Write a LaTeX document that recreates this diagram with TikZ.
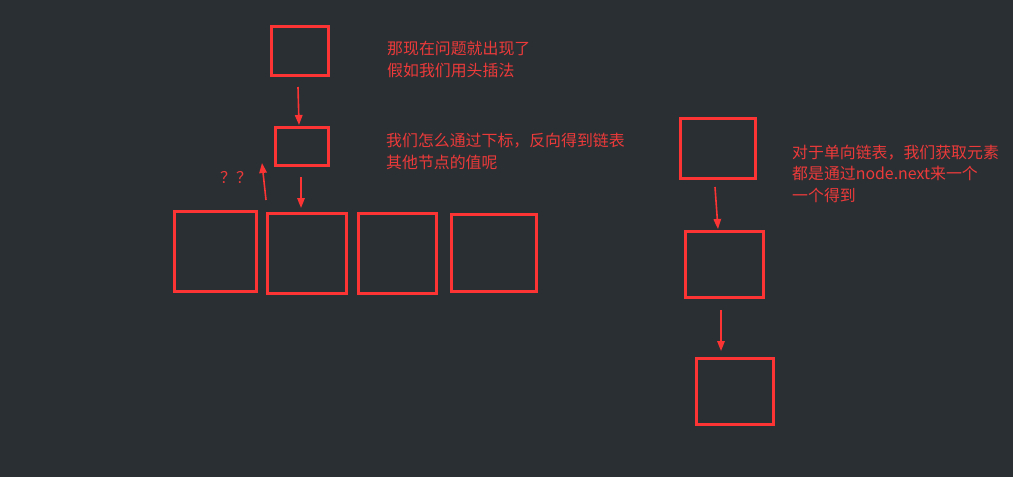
\documentclass[tikz,border=0pt]{standalone}
\usepackage{fontspec}
\setmainfont{Noto Sans CJK SC}
\usetikzlibrary{arrows.meta}
\definecolor{bg}{RGB}{41,47,51}
\definecolor{boxred}{RGB}{252,52,52}
\definecolor{txtred}{RGB}{236,58,58}
\begin{document}
\begin{tikzpicture}[x=1pt,y=-1pt,
  listbox/.style={draw=boxred,line width=3pt},
  slot/.style={inner sep=0pt,outer sep=0pt},
  link/.style={draw=boxred,line width=1.6pt,-{Triangle[length=10pt,width=7.5pt]}},
  note/.style={text=txtred,anchor=base west,inner sep=0pt,font=\fontsize{15.9}{22}\selectfont}]
\fill[bg] (0,0) rectangle (1013,477);
\useasboundingbox (0,0) rectangle (1013,477);
% left group
\node[slot,minimum width=57pt,minimum height=49pt] (top) at (300,51) {};
\node[slot,minimum width=53pt,minimum height=38pt] (mid) at (302,146.5) {};
\node[slot,minimum width=82pt,minimum height=80pt] (b1) at (215.5,251.5) {};
\node[slot,minimum width=79pt,minimum height=80pt] (b2) at (307,253.5) {};
\node[slot,minimum width=78pt,minimum height=80pt] (b3) at (397.5,253.5) {};
\node[slot,minimum width=85pt,minimum height=77pt] (b4) at (494,253) {};
\foreach \n in {top,mid,b1,b2,b3,b4} \draw[listbox] (\n.north west) rectangle (\n.south east);
\coordinate (a1s) at (298,87);
\coordinate (a1e) at (299,125);
\draw[link] (a1s) -- (a1e);
\coordinate (a2s) at (301,177);
\coordinate (a2e) at (301,208);
\draw[link] (a2s) -- (a2e);
\coordinate (qs) at (266,200);
\coordinate (qe) at (262,163);
\draw[link] (qs) -- (qe);
\node[note] (qq) at (220,183) {？？};
\node[note] (n1) at (387,54.5) {那现在问题就出现了};
\node[note] (n2) at (387,76) {假如我们用头插法};
\node[note] (n3) at (386,146) {我们怎么通过下标，反向得到链表};
\node[note] (n4) at (386,168) {其他节点的值呢};
% right group
\node[slot,minimum width=75pt,minimum height=60pt] (r1) at (718,148.5) {};
\node[slot,minimum width=78pt,minimum height=66pt] (r2) at (724.5,264.5) {};
\node[slot,minimum width=77pt,minimum height=66pt] (r3) at (735,391.5) {};
\foreach \n in {r1,r2,r3} \draw[listbox] (\n.north west) rectangle (\n.south east);
\coordinate (r1s) at (715,187);
\coordinate (r1e) at (718,229);
\draw[link] (r1s) -- (r1e);
\coordinate (r2s) at (721,310);
\coordinate (r2e) at (721,351);
\draw[link] (r2s) -- (r2e);
\node[note] (m1) at (792,158) {对于单向链表，我们获取元素};
\node[note] (m2) at (792,179) {都是通过node.next来一个};
\node[note] (m3) at (792,201) {一个得到};
\end{tikzpicture}
\end{document}
